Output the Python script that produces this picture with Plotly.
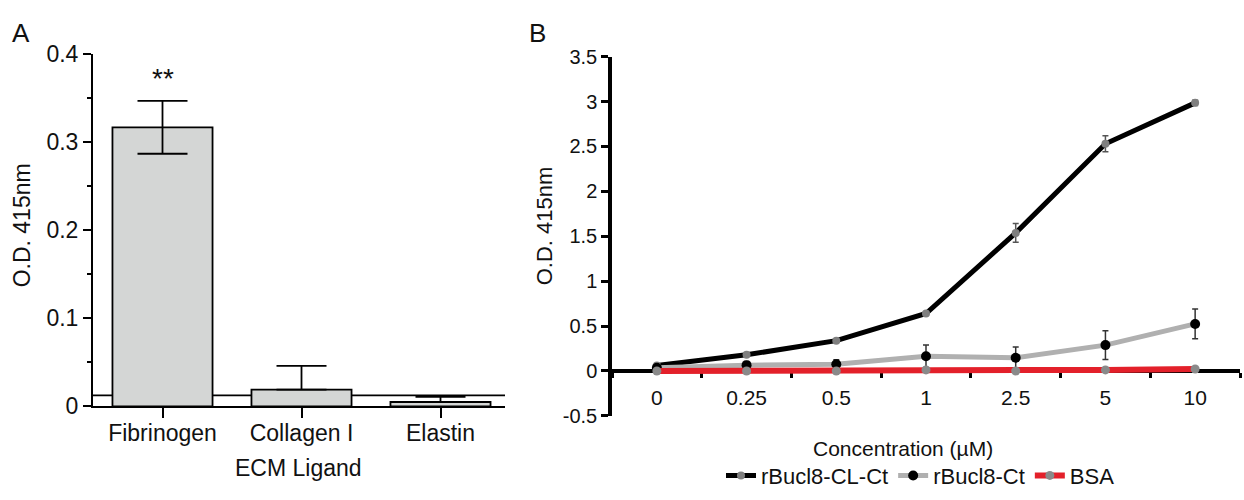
import plotly.graph_objects as go

# ---------------- Data: panel A ----------------
ligands = ["Fibrinogen", "Collagen I", "Elastin"]
od_A = [0.317, 0.019, 0.005]
err_A_plus = [0.030, 0.027, 0.006]
err_A_minus = [0.030, 0.0, 0.0]
baseline_A = 0.0126
sig_label = "**"
sig_y = 0.372

# ---------------- Data: panel B ----------------
conc_labels = ["0", "0.25", "0.5", "1", "2.5", "5", "10"]
cl_ct = [0.06, 0.18, 0.338, 0.64, 1.537, 2.53, 2.985]
cl_ct_err = [0.01, 0.01, 0.01, 0.01, 0.105, 0.088, 0.03]
ct = [0.035, 0.065, 0.075, 0.165, 0.148, 0.288, 0.524]
ct_err = [0.01, 0.04, 0.05, 0.125, 0.12, 0.16, 0.165]
bsa = [0.0, 0.0, 0.0, 0.012, 0.0, 0.012, 0.022]
yB_ticks = [-0.5, 0, 0.5, 1, 1.5, 2, 2.5, 3, 3.5]
yB_ticktext = ["-0.5", "0", "0.5", "1", "1.5", "2", "2.5", "3", "3.5"]

FONT = "Liberation Sans, Arial, sans-serif"
INK = "#111111"
W, H = 1244, 500

def px_x(p):
    return p / W

def px_y(p):
    return (H - p) / H

def f(size):
    return dict(family=FONT, size=size, color=INK)

fig = go.Figure()

# Panel A bars
fig.add_trace(go.Bar(
    x=ligands, y=od_A, width=0.72,
    marker=dict(color="#d4d6d5", line=dict(color="black", width=1.8)),
    error_y=dict(type="data", symmetric=False, array=err_A_plus, arrayminus=err_A_minus,
                 color="black", thickness=1.8, width=25),
    xaxis="x", yaxis="y", showlegend=False,
))

# Panel B lines
fig.add_trace(go.Scatter(
    x=conc_labels, y=cl_ct, mode="lines+markers", name="rBucl8-CL-Ct",
    line=dict(color="black", width=5),
    marker=dict(color="#7f7f7f", size=8),
    error_y=dict(type="data", array=cl_ct_err, color="#555555", thickness=1.5, width=3),
    xaxis="x2", yaxis="y2",
))
fig.add_trace(go.Scatter(
    x=conc_labels, y=ct, mode="lines+markers", name="rBucl8-Ct",
    line=dict(color="#b0b0b0", width=5),
    marker=dict(color="black", size=10),
    error_y=dict(type="data", array=ct_err, color="#333333", thickness=1.5, width=3),
    xaxis="x2", yaxis="y2",
))
fig.add_trace(go.Scatter(
    x=conc_labels, y=bsa, mode="lines+markers", name="BSA",
    line=dict(color="#e3202a", width=6),
    marker=dict(color="#8a8a8a", size=9),
    xaxis="x2", yaxis="y2",
))

# baseline line in panel A
fig.add_shape(type="line", xref="x domain", yref="y", x0=0, x1=1,
              y0=baseline_A, y1=baseline_A, line=dict(color="black", width=1.8), layer="below")

fig.update_layout(
    width=W, height=H,
    margin=dict(l=0, r=0, t=0, b=0),
    paper_bgcolor="white", plot_bgcolor="white",
    font=dict(family=FONT, color=INK),
    xaxis=dict(
        domain=[px_x(93), px_x(505)], anchor="y", type="category",
        categoryorder="array", categoryarray=ligands,
        range=[-0.5, 2.464], showline=True, linecolor="black", linewidth=2,
        ticks="outside", ticklen=10, tickwidth=2, tickcolor="black", ticklabelstandoff=-5,
        showgrid=False, zeroline=False, tickfont=f(23),
    ),
    yaxis=dict(
        domain=[px_y(415), px_y(43.5)], anchor="x", range=[0, 0.4], dtick=0.1,
        showline=True, linecolor="black", linewidth=2,
        ticks="outside", ticklen=8, tickwidth=2, tickcolor="black",
        minor=dict(ticks="outside", ticklen=4, dtick=0.05, tickwidth=1.5, tickcolor="black"),
        showgrid=False, zeroline=False, tickfont=f(23),
    ),
    xaxis2=dict(
        domain=[px_x(612), px_x(1240)], anchor="free", position=px_y(378),
        type="category", categoryorder="array", categoryarray=conc_labels,
        range=[-0.5, 6.5], tickson="boundaries", layer="below traces",
        showline=True, linecolor="black", linewidth=3.5,
        ticks="outside", ticklen=5, tickwidth=3, tickcolor="black", ticklabelstandoff=7,
        showgrid=False, zeroline=False, tickfont=f(21),
    ),
    yaxis2=dict(
        domain=[px_y(425), px_y(46)], anchor="x2", range=[-0.5, 3.5],
        tickvals=yB_ticks, ticktext=yB_ticktext, layer="below traces",
        showline=True, linecolor="black", linewidth=3.5,
        ticks="outside", ticklen=7, tickwidth=3, tickcolor="black",
        showgrid=False, zeroline=False, tickfont=f(20),
    ),
    legend=dict(
        orientation="h", x=px_x(721), xanchor="left", y=px_y(488), yanchor="middle",
        font=f(22), bgcolor="rgba(0,0,0,0)",
    ),
    annotations=[
        dict(text=sig_label, x=ligands[0], y=sig_y, xref="x", yref="y", showarrow=False,
             xanchor="center", yanchor="middle", font=f(28)),
        dict(text="A", x=px_x(21), y=px_y(21), xref="paper", yref="paper", showarrow=False,
             xanchor="center", yanchor="middle", font=f(26)),
        dict(text="B", x=px_x(537), y=px_y(21), xref="paper", yref="paper", showarrow=False,
             xanchor="center", yanchor="middle", font=f(26)),
        dict(text="O.D. 415nm", x=px_x(22), y=px_y(224), xref="paper", yref="paper",
             xanchor="center", yanchor="middle",
             showarrow=False, textangle=-90, font=f(23)),
        dict(text="ECM Ligand", x=px_x(298), y=px_y(480), xref="paper", yref="paper",
             xanchor="center", yanchor="middle", showarrow=False, font=f(23)),
        dict(text="O.D. 415nm", x=px_x(544), y=px_y(225), xref="paper", yref="paper",
             xanchor="center", yanchor="middle",
             showarrow=False, textangle=-90, font=f(22)),
        dict(text="Concentration (µM)", x=px_x(903), y=px_y(459), xref="paper", yref="paper",
             xanchor="center", yanchor="middle", showarrow=False, font=f(21)),
    ],
)

fig.write_html("out.html", config={"displayModeBar": False},
               post_script="document.body.style.margin='0px';")
